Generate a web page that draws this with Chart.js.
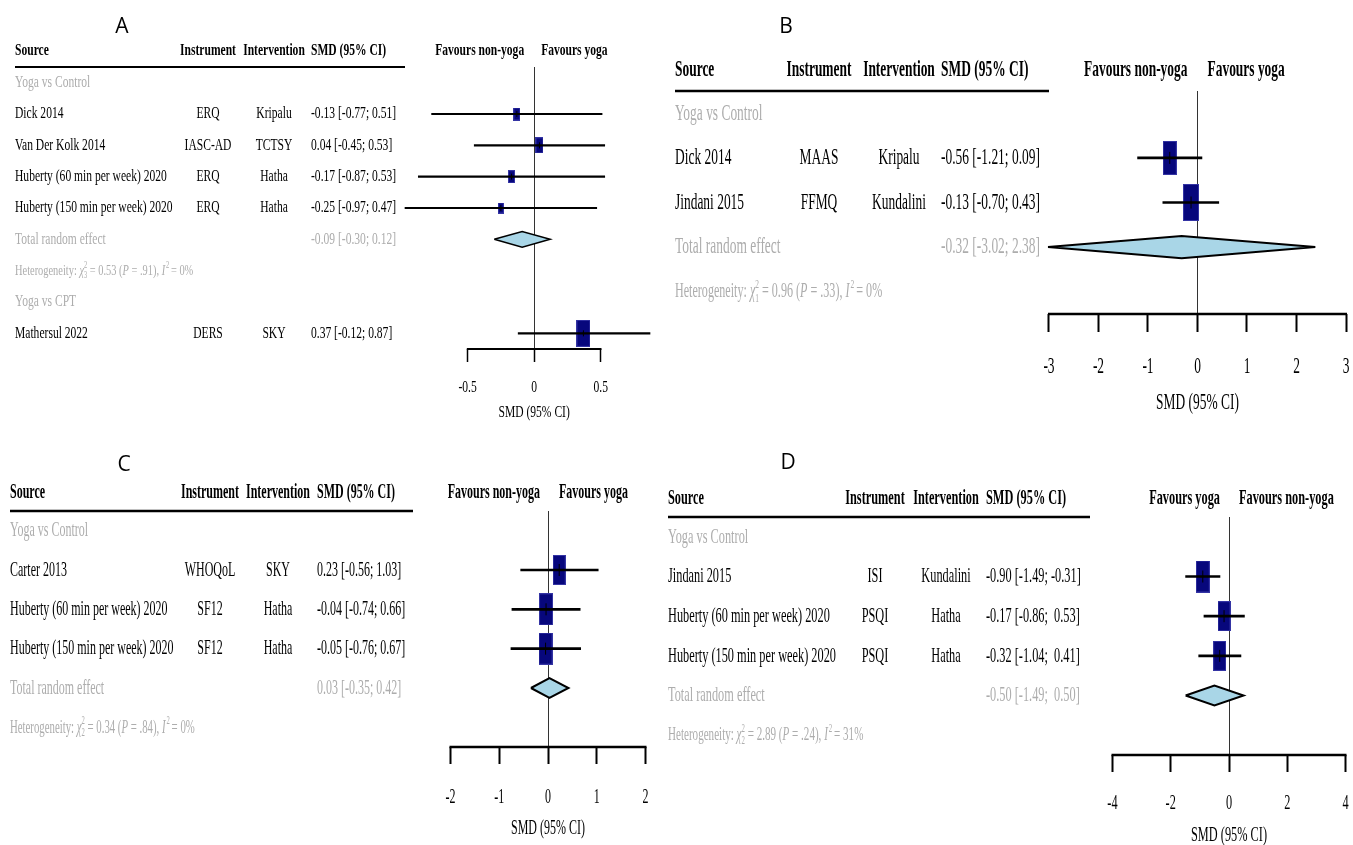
<!DOCTYPE html>
<html>
<head>
<meta charset="utf-8">
<title>Yoga forest plots</title>
<script src="https://cdn.jsdelivr.net/npm/chart.js@4.4.1/dist/chart.umd.min.js"></script>
<style>
  html, body { margin: 0; padding: 0; background: #fff; }
  #wrap { position: relative; width: 1353px; height: 845px; overflow: hidden; }
  canvas { position: absolute; }
</style>
</head>
<body>
<div id="wrap">
  <canvas id="panelA" width="660" height="440" style="left:0;top:0"></canvas>
  <canvas id="panelB" width="693" height="440" style="left:660px;top:0"></canvas>
  <canvas id="panelC" width="660" height="405" style="left:0;top:440px"></canvas>
  <canvas id="panelD" width="693" height="405" style="left:660px;top:440px"></canvas>
</div>
<script>
// ---- Panel A: emotion regulation ----
const sourcesA = ['Dick 2014', 'Van Der Kolk 2014', 'Huberty (60 min per week) 2020', 'Huberty (150 min per week) 2020', 'Mathersul 2022'];
const instrumentsA = ['ERQ', 'IASC-AD', 'ERQ', 'ERQ', 'DERS'];
const interventionsA = ['Kripalu', 'TCTSY', 'Hatha', 'Hatha', 'SKY'];
const smdA = [-0.13, 0.04, -0.17, -0.25, 0.37];
const lowerA = [-0.77, -0.45, -0.87, -0.97, -0.12];
const upperA = [0.51, 0.53, 0.53, 0.47, 0.87];
const weightsA = [23, 36, 23, 18, 100];
const totalA = [-0.09, -0.30, 0.12];      // estimate, lower, upper
const hetA = [3, 0.53, 0.91, 0];          // df, chi2, P, I2
const ticksA = [-0.5, 0, 0.5];
const favoursA = ['Favours non-yoga', 'Favours yoga'];

// ---- Panel B: mindfulness ----
const sourcesB = ['Dick 2014', 'Jindani 2015'];
const instrumentsB = ['MAAS', 'FFMQ'];
const interventionsB = ['Kripalu', 'Kundalini'];
const smdB = [-0.56, -0.13];
const lowerB = [-1.21, -0.70];
const upperB = [0.09, 0.43];
const weightsB = [45, 55];
const totalB = [-0.32, -3.02, 2.38];
const hetB = [1, 0.96, 0.33, 0];
const ticksB = [-3, -2, -1, 0, 1, 2, 3];
const favoursB = ['Favours non-yoga', 'Favours yoga'];

// ---- Panel C: quality of life ----
const sourcesC = ['Carter 2013', 'Huberty (60 min per week) 2020', 'Huberty (150 min per week) 2020'];
const instrumentsC = ['WHOQoL', 'SF12', 'SF12'];
const interventionsC = ['SKY', 'Hatha', 'Hatha'];
const smdC = [0.23, -0.04, -0.05];
const lowerC = [-0.56, -0.74, -0.76];
const upperC = [1.03, 0.66, 0.67];
const weightsC = [30, 35, 35];
const totalC = [0.03, -0.35, 0.42];
const hetC = [2, 0.34, 0.84, 0];
const ticksC = [-2, -1, 0, 1, 2];
const favoursC = ['Favours non-yoga', 'Favours yoga'];

// ---- Panel D: sleep ----
const sourcesD = ['Jindani 2015', 'Huberty (60 min per week) 2020', 'Huberty (150 min per week) 2020'];
const instrumentsD = ['ISI', 'PSQI', 'PSQI'];
const interventionsD = ['Kundalini', 'Hatha', 'Hatha'];
const smdD = [-0.90, -0.17, -0.32];
const lowerD = [-1.49, -0.86, -1.04];
const upperD = [-0.31, 0.53, 0.41];
const weightsD = [36, 32, 32];
const totalD = [-0.50, -1.49, 0.50];
const hetD = [2, 2.89, 0.24, 31];
const ticksD = [-4, -2, 0, 2, 4];
const favoursD = ['Favours yoga', 'Favours non-yoga'];

const SERIF = '"Liberation Serif", "Times New Roman", serif';
const GRAY = '#adadad';
const NAVY = '#07077c';

// draws horizontally condensed text, returns drawn width
function txt(ctx, s, x, y, o) {
  ctx.save();
  ctx.font = (o.it ? 'italic ' : '') + (o.bold ? 'bold ' : '') + o.size + 'px ' + (o.family || SERIF);
  ctx.fillStyle = o.color || '#000';
  ctx.textBaseline = 'middle';
  ctx.textAlign = o.align || 'left';
  ctx.translate(x, y);
  ctx.scale(o.sx || 1, 1);
  ctx.fillText(s, 0, 0);
  const w = ctx.measureText(s).width * (o.sx || 1);
  ctx.restore();
  return w;
}

function hetText(ctx, h, x, y, size, sx) {
  const s = size * 0.9, small = s * 0.62;
  const base = {size: s, sx: sx, color: GRAY};
  let cx = x;
  cx += txt(ctx, 'Heterogeneity: ', cx, y, base);
  cx += txt(ctx, 'χ', cx, y, Object.assign({}, base, {it: true}));
  const w1 = txt(ctx, '2', cx, y - s * 0.33, {size: small, sx: sx, color: GRAY});
  const w2 = txt(ctx, String(h[0]), cx, y + s * 0.3, {size: small, sx: sx, color: GRAY});
  cx += Math.max(w1, w2);
  cx += txt(ctx, ' = ' + h[1].toFixed(2) + ' (', cx, y, base);
  cx += txt(ctx, 'P', cx, y, Object.assign({}, base, {it: true}));
  cx += txt(ctx, ' = ' + h[2].toFixed(2).replace(/^0/, '') + '), ', cx, y, base);
  cx += txt(ctx, 'I', cx, y, Object.assign({}, base, {it: true}));
  cx += txt(ctx, '2', cx + 1, y - s * 0.33, {size: small, sx: sx, color: GRAY});
  txt(ctx, ' = ' + h[3] + '%', cx, y, base);
}

function fmtCI(e, lo, hi, pad) {
  const sep = (pad && hi >= 0) ? '  ' : ' ';
  return e.toFixed(2) + ' [' + lo.toFixed(2) + ';' + sep + hi.toFixed(2) + ']';
}

function boxImage(h, aspect) {
  const c = document.createElement('canvas');
  c.width = Math.max(2, Math.round(h * aspect));
  c.height = Math.max(2, Math.round(h));
  const g = c.getContext('2d');
  g.fillStyle = NAVY;
  g.fillRect(0, 0, c.width, c.height);
  g.strokeStyle = '#3434a4';
  g.lineWidth = 1;
  g.strokeRect(0.5, 0.5, c.width - 1, c.height - 1);
  return c;
}

function buildRows(groups) {
  const rows = [];
  groups.forEach(g => {
    rows.push({kind: 'group', text: g.label});
    g.studies.forEach(i => rows.push({kind: 'study', i: i}));
    if (g.total) rows.push({kind: 'total', total: g.total});
    if (g.het) rows.push({kind: 'het', het: g.het});
  });
  return rows;
}

function tablePlugin(d, lay, rows) {
  return {
    id: 'forestTable',
    afterDraw(chart) {
      const ctx = chart.ctx;
      const xs = chart.scales.x, ys = chart.scales.y;
      const f = {size: lay.fs, sx: lay.sx};
      const fb = {size: lay.fs, sx: lay.sx, bold: true};
      const x0 = xs.getPixelForValue(0);

      // panel letter
      txt(ctx, lay.letter, lay.letterX, lay.letterY, {size: 21, family: '"Open Sans", "Noto Sans", sans-serif', align: 'center'});

      // header
      txt(ctx, 'Source', lay.colSource, lay.headerY, fb);
      txt(ctx, 'Instrument', lay.colInstr, lay.headerY, Object.assign({}, fb, {align: 'center'}));
      txt(ctx, 'Intervention', lay.colInterv, lay.headerY, Object.assign({}, fb, {align: 'center'}));
      txt(ctx, 'SMD (95% CI)', lay.colSmd, lay.headerY, fb);
      txt(ctx, d.favours[0], x0 - lay.favL, lay.headerY, Object.assign({}, fb, {align: 'right'}));
      txt(ctx, d.favours[1], x0 + lay.favR, lay.headerY, fb);

      ctx.save();
      ctx.strokeStyle = '#000';
      ctx.lineWidth = lay.ruleW;
      ctx.beginPath();
      ctx.moveTo(lay.colSource, chart.chartArea.top);
      ctx.lineTo(lay.ruleX2, chart.chartArea.top);
      ctx.stroke();
      ctx.restore();

      // rows
      rows.forEach((r, k) => {
        const y = ys.getPixelForValue(k);
        if (r.kind === 'group') {
          txt(ctx, r.text, lay.colSource, y, Object.assign({}, f, {color: GRAY}));
        } else if (r.kind === 'study') {
          const i = r.i;
          txt(ctx, d.sources[i], lay.colSource, y, f);
          txt(ctx, d.instruments[i], lay.colInstr, y, Object.assign({}, f, {align: 'center'}));
          txt(ctx, d.interventions[i], lay.colInterv, y, Object.assign({}, f, {align: 'center'}));
          txt(ctx, fmtCI(d.smd[i], d.lower[i], d.upper[i], d.pad), lay.colSmd, y, f);
        } else if (r.kind === 'total') {
          txt(ctx, 'Total random effect', lay.colSource, y, Object.assign({}, f, {color: GRAY}));
          txt(ctx, fmtCI(r.total[0], r.total[1], r.total[2], d.pad), lay.colSmd, y, Object.assign({}, f, {color: GRAY}));
        } else if (r.kind === 'het') {
          hetText(ctx, r.het, lay.colSource, y, lay.fs, lay.sx);
        }
      });

      // axis bracket, tick labels, title
      const yb = chart.chartArea.bottom;
      ctx.save();
      ctx.strokeStyle = '#000';
      ctx.lineWidth = lay.axisW;
      ctx.beginPath();
      ctx.moveTo(xs.getPixelForValue(d.ticks[0]) - lay.tickW / 2, yb);
      ctx.lineTo(xs.getPixelForValue(d.ticks[d.ticks.length - 1]) + lay.tickW / 2, yb);
      ctx.stroke();
      ctx.restore();
      xs.ticks.forEach(t => {
        txt(ctx, String(t.value), xs.getPixelForValue(t.value), yb + lay.tickY, Object.assign({}, f, {align: 'center'}));
      });
      txt(ctx, 'SMD (95% CI)', x0, yb + lay.titleY, Object.assign({}, f, {align: 'center'}));
    }
  };
}

function forest(id, d, lay) {
  const canvas = document.getElementById(id);
  const W = canvas.width, H = canvas.height;
  const rows = buildRows(d.groups);
  const ci = [], pts = [], datasets = [];
  rows.forEach((r, k) => {
    if (r.kind === 'study') {
      ci.push({x: [d.lower[r.i], d.upper[r.i]], y: k});
      pts.push({x: d.smd[r.i], y: k, w: d.weights[r.i]});
    } else if (r.kind === 'total') {
      const e = r.total[0], lo = r.total[1], hi = r.total[2];
      datasets.push({
        type: 'line',
        data: [{x: lo, y: k}, {x: e, y: k - 0.25}, {x: hi, y: k}, {x: e, y: k + 0.25}, {x: lo, y: k}],
        borderColor: '#000',
        borderWidth: lay.ciW,
        backgroundColor: '#a9d6e7',
        fill: 'shape',
        tension: 0,
        pointRadius: 0,
        order: 4
      });
    }
  });
  datasets.push({
    type: 'scatter',
    data: pts,
    pointStyle: c => boxImage(lay.boxK * Math.sqrt(c.raw.w), lay.boxAspect),
    pointRadius: 5,
    order: 3
  });
  datasets.push({
    type: 'bar',
    indexAxis: 'y',
    data: ci,
    backgroundColor: '#000',
    borderWidth: 0,
    barThickness: lay.ciW,
    grouped: false,
    order: 2
  });
  datasets.push({
    type: 'scatter',
    data: pts.map(p => ({x: p.x, y: p.y})),
    pointStyle: 'line',
    pointRotation: 90,
    pointRadius: lay.plusR,
    pointBorderColor: '#000',
    pointBorderWidth: 1,
    order: 1
  });

  const axisH = 20;
  new Chart(canvas, {
    type: 'scatter',
    data: {datasets: datasets},
    options: {
      responsive: false,
      animation: false,
      events: [],
      layout: {
        padding: {
          left: lay.zeroPx + d.xMin * lay.ppu,
          right: W - (lay.zeroPx + d.xMax * lay.ppu),
          top: lay.top,
          bottom: H - lay.bottom - axisH
        }
      },
      plugins: {legend: {display: false}, tooltip: {enabled: false}},
      scales: {
        x: {
          type: 'linear',
          min: d.xMin,
          max: d.xMax,
          offset: false,
          afterBuildTicks: s => { s.ticks = d.ticks.map(v => ({value: v})); },
          afterFit: s => { s.height = axisH; },
          ticks: {display: false},
          border: {display: false},
          grid: {
            offset: false,
            drawOnChartArea: true,
            drawTicks: true,
            tickLength: lay.tickLen,
            color: c => (c.tick && c.tick.value === 0) ? '#333' : 'rgba(0,0,0,0)',
            lineWidth: 1,
            tickColor: '#000',
            tickWidth: lay.tickW
          }
        },
        y: {
          type: 'linear',
          reverse: true,
          offset: false,
          min: -0.5,
          max: rows.length - 0.5,
          display: false
        }
      }
    },
    plugins: [tablePlugin(d, lay, rows)]
  });
}

forest('panelA', {
  sources: sourcesA, instruments: instrumentsA, interventions: interventionsA,
  smd: smdA, lower: lowerA, upper: upperA, weights: weightsA,
  groups: [
    {label: 'Yoga vs Control', studies: [0, 1, 2, 3], total: totalA, het: hetA},
    {label: 'Yoga vs CPT', studies: [4]}
  ],
  ticks: ticksA, favours: favoursA, xMin: -1.0, xMax: 0.9, pad: false
}, {
  letter: 'A', letterX: 122, letterY: 27,
  headerY: 51, ruleX2: 405, ruleW: 2,
  colSource: 15, colInstr: 208, colInterv: 274, colSmd: 311,
  fs: 17, sx: 0.68, favL: 10, favR: 7,
  zeroPx: 537, ppu: 136, top: 67, bottom: 349,
  tickLen: 13, tickW: 1.5, axisW: 2, tickY: 39, titleY: 64,
  boxK: 2.7, boxAspect: 0.52, ciW: 1.5, plusR: 3
});

forest('panelB', {
  sources: sourcesB, instruments: instrumentsB, interventions: interventionsB,
  smd: smdB, lower: lowerB, upper: upperB, weights: weightsB,
  groups: [{label: 'Yoga vs Control', studies: [0, 1], total: totalB, het: hetB}],
  ticks: ticksB, favours: favoursB, xMin: -3.05, xMax: 3, pad: false
}, {
  letter: 'B', letterX: 126, letterY: 27,
  headerY: 70, ruleX2: 389, ruleW: 2.5,
  colSource: 15, colInstr: 159, colInterv: 239, colSmd: 281,
  fs: 24, sx: 0.56, favL: 10, favR: 10,
  zeroPx: 539, ppu: 50, top: 91, bottom: 314,
  tickLen: 18, tickW: 2, axisW: 2.5, tickY: 53, titleY: 89,
  boxK: 5, boxAspect: 0.42, ciW: 2, plusR: 6
});

forest('panelC', {
  sources: sourcesC, instruments: instrumentsC, interventions: interventionsC,
  smd: smdC, lower: lowerC, upper: upperC, weights: weightsC,
  groups: [{label: 'Yoga vs Control', studies: [0, 1, 2], total: totalC, het: hetC}],
  ticks: ticksC, favours: favoursC, xMin: -2, xMax: 2, pad: false
}, {
  letter: 'C', letterX: 124, letterY: 25,
  headerY: 52, ruleX2: 413, ruleW: 2.5,
  colSource: 10, colInstr: 210, colInterv: 278, colSmd: 317,
  fs: 22, sx: 0.545, favL: 8, favR: 11,
  zeroPx: 548, ppu: 48.75, top: 71, bottom: 307,
  tickLen: 17, tickW: 2, axisW: 2.5, tickY: 50, titleY: 81,
  boxK: 5.4, boxAspect: 0.45, ciW: 2, plusR: 6
});

forest('panelD', {
  sources: sourcesD, instruments: instrumentsD, interventions: interventionsD,
  smd: smdD, lower: lowerD, upper: upperD, weights: weightsD,
  groups: [{label: 'Yoga vs Control', studies: [0, 1, 2], total: totalD, het: hetD}],
  ticks: ticksD, favours: favoursD, xMin: -4, xMax: 4, pad: true
}, {
  letter: 'D', letterX: 128, letterY: 23,
  headerY: 58, ruleX2: 430, ruleW: 2.5,
  colSource: 8, colInstr: 215, colInterv: 286, colSmd: 326,
  fs: 22, sx: 0.56, favL: 9, favR: 10,
  zeroPx: 569, ppu: 29.125, top: 77, bottom: 315,
  tickLen: 17, tickW: 2, axisW: 2.5, tickY: 48, titleY: 80,
  boxK: 5.3, boxAspect: 0.44, ciW: 2, plusR: 6
});
</script>
</body>
</html>
